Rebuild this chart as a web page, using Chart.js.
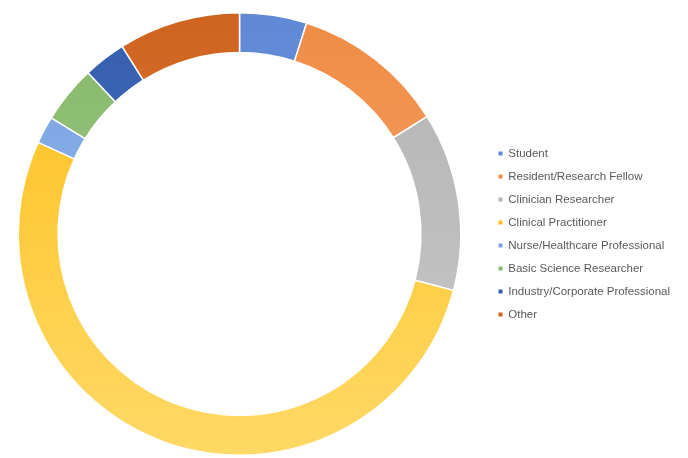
<!DOCTYPE html>
<html>
<head>
<meta charset="utf-8">
<script src="https://cdn.jsdelivr.net/npm/chart.js@4"></script>
<style>
  html, body { margin: 0; padding: 0; background: #ffffff; overflow: hidden; }
  #wrap { width: 696px; height: 458px; position: relative; left: -8px; }
</style>
</head>
<body>
<div id="wrap"><canvas id="chartRoles"></canvas></div>
<script>
var roleLabels = ['Student', 'Resident/Research Fellow', 'Clinician Researcher', 'Clinical Practitioner',
                  'Nurse/Healthcare Professional', 'Basic Science Researcher', 'Industry/Corporate Professional', 'Other'];
var roleValues = [4.9, 11.2, 13.0, 52.7, 2.0, 4.2, 3.1, 8.9];

// Colores: tono oscuro arriba, claro abajo (degradado tipo Office)
var colorTop    = ['#5f88d6', '#ef8c45', '#b3b3b3', '#fdbf1a', '#79a3e2', '#86b86a', '#355fae', '#cf6420'];
var colorBottom = ['#7a9fe0', '#f6aa75', '#c9c9c9', '#ffd966', '#95b9ec', '#a3cf8d', '#4d78c4', '#e08040'];

function gradientFor(context) {
    var chart = context.chart;
    var area = chart.chartArea;
    if (!area) return colorTop[context.dataIndex];
    var g = chart.ctx.createLinearGradient(0, area.top, 0, area.bottom);
    g.addColorStop(0, colorTop[context.dataIndex]);
    g.addColorStop(1, colorBottom[context.dataIndex]);
    return g;
}

var ctxRoles = document.getElementById('chartRoles').getContext('2d');
var chartRoles = new Chart(ctxRoles, {
    type: 'doughnut',
    data: {
        labels: roleLabels,
        datasets: [{
            data: roleValues,
            backgroundColor: gradientFor,
            borderColor: '#ffffff',
            borderWidth: 1.5
        }]
    },
    options: {
        responsive: true,
        maintainAspectRatio: false,
        animation: false,
        cutout: '82%',
        layout: { padding: { top: 12, bottom: 2, left: 0, right: 8 } },
        plugins: {
            tooltip: { enabled: false },
            legend: {
                position: 'right',
                align: 'center',
                labels: {
                    boxWidth: 4,
                    boxHeight: 4,
                    padding: 11.5,
                    color: '#595959',
                    font: { family: 'Liberation Sans', size: 11.5 },
                    generateLabels: function (chart) {
                        return roleLabels.map(function (lab, i) {
                            return {
                                text: lab,
                                fillStyle: colorTop[i],
                                strokeStyle: colorTop[i],
                                lineWidth: 0,
                                fontColor: '#595959',
                                index: i
                            };
                        });
                    }
                }
            }
        }
    }
});
</script>
</body>
</html>
